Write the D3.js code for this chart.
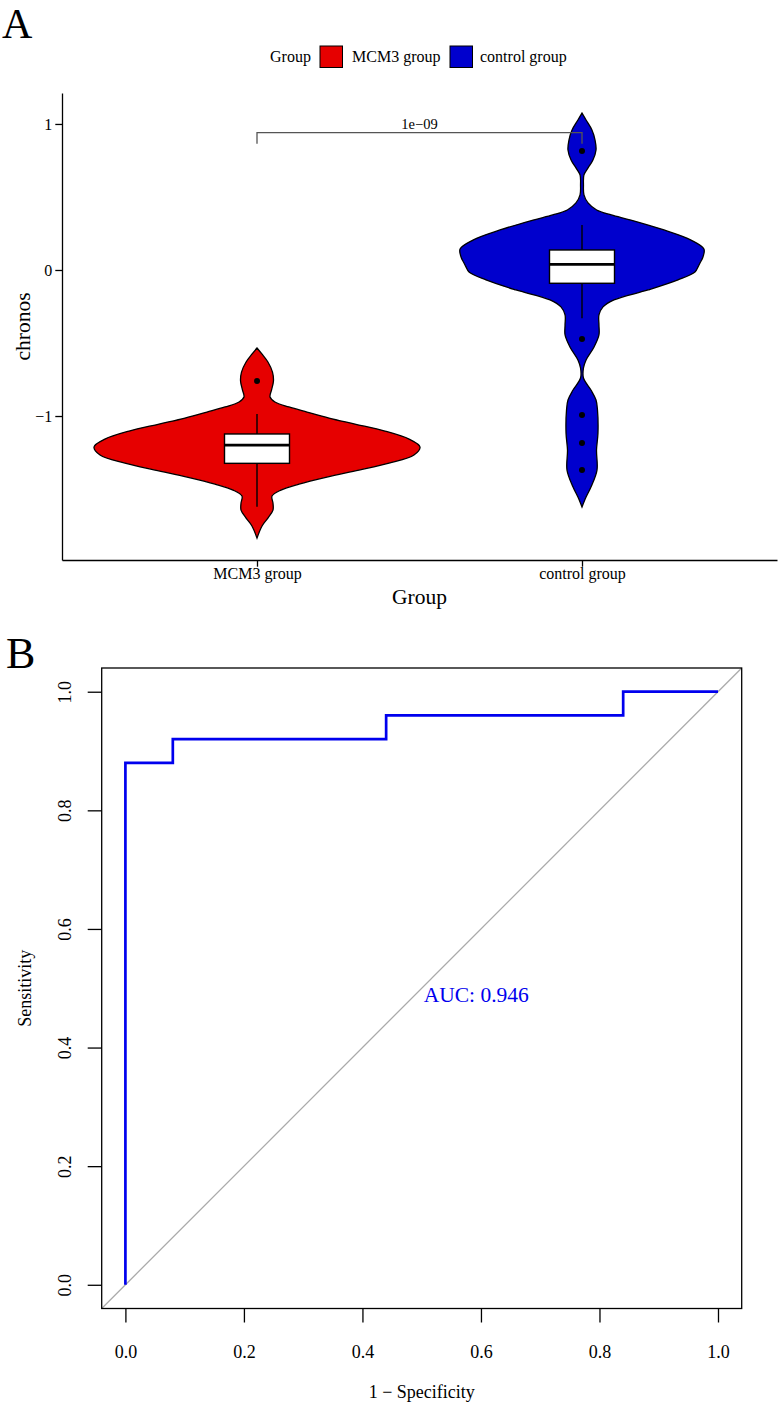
<!DOCTYPE html>
<html><head><meta charset="utf-8">
<script src="https://cdn.jsdelivr.net/npm/d3@7"></script>
<style>
body{margin:0;background:#fff}
text{font-family:"Liberation Serif","Times New Roman",serif;fill:#000}
</style>
</head><body>
<svg id="chart" width="780" height="1404"></svg>
<script>
// ---------- Panel A data ----------
const groups = ["MCM3 group", "control group"];
const groupColors = ["#E60000", "#0000CD"];
const yTicksA = [-1, 0, 1];

// violin outline profiles (value, relative density)
const mcm3ViolinValue = [-0.534,-0.575,-0.630,-0.699,-0.760,-0.822,-0.870,-0.904,-0.938,-0.973,-1.014,-1.055,-1.103,-1.158,-1.212,-1.267,-1.322,-1.370,-1.418,-1.466,-1.507,-1.548,-1.596,-1.644,-1.699,-1.753,-1.836];
const mcm3ViolinDensity = [0,0.03,0.067,0.095,0.101,0.089,0.080,0.110,0.196,0.307,0.442,0.601,0.785,0.933,1.0,0.963,0.810,0.626,0.429,0.258,0.147,0.092,0.098,0.098,0.067,0.031,0];
const controlViolinValue = [1.075,1.027,0.959,0.890,0.822,0.753,0.699,0.651,0.582,0.514,0.459,0.411,0.377,0.342,0.274,0.205,0.144,0.089,0.048,0.021,-0.014,-0.068,-0.137,-0.205,-0.253,-0.308,-0.377,-0.445,-0.527,-0.616,-0.671,-0.740,-0.822,-0.890,-0.959,-1.116,-1.233,-1.370,-1.486,-1.555,-1.623];
const controlViolinDensity = [0,0.025,0.061,0.080,0.086,0.067,0.037,0.012,0.009,0.012,0.037,0.09,0.18,0.30,0.503,0.669,0.748,0.742,0.724,0.712,0.693,0.589,0.405,0.196,0.129,0.104,0.104,0.104,0.074,0.025,0.009,0.009,0.055,0.086,0.095,0.098,0.089,0.092,0.055,0.025,0];

// boxplot statistics
const boxLowerWhisker = [-1.621, -0.331];
const boxQ1 = [-1.324, -0.091];
const boxMedian = [-1.199, 0.039];
const boxQ3 = [-1.123, 0.137];
const boxUpperWhisker = [-0.986, 0.308];
const mcm3Outliers = [-0.760];
const controlOutliers = [0.815, -0.473, -0.993, -1.185, -1.370];
const pValueLabel = "1e\u221209";
const bracketValue = 0.94;

// ---------- Panel B data ----------
const rocFpr = [0, 0, 0.08, 0.08, 0.44, 0.44, 0.84, 0.84, 1];
const rocTpr = [0, 0.88, 0.88, 0.92, 0.92, 0.96, 0.96, 1, 1];
const rocTicks = [0, 0.2, 0.4, 0.6, 0.8, 1.0];
const aucLabel = "AUC: 0.946";

const svg = d3.select("#chart");

// =============== Panel A ===============
const xA = d3.scalePoint().domain(groups).range([62, 777]).padding(0.6);
const yA = d3.scaleLinear().domain([-1.986, 1.212]).range([560, 93]);
const wA = d3.scaleLinear().domain([0, 1]).range([0, 163]);
const boxHalf = 32.5;

svg.append("text").attr("x", 2).attr("y", 37.5).attr("font-size", 42).text("A");

// legend
const leg = svg.append("g");
leg.append("text").attr("x", 270).attr("y", 62).attr("font-size", 16).text("Group");
const legX = [320, 450], legTX = [352, 480];
groups.forEach((g, i) => {
  leg.append("rect").attr("x", legX[i]).attr("y", 46).attr("width", 22.5).attr("height", 21.5)
    .attr("fill", groupColors[i]).attr("stroke", "#000").attr("stroke-width", 1);
  leg.append("text").attr("x", legTX[i]).attr("y", 62).attr("font-size", 16).text(g);
});

// violins
const profiles = [
  mcm3ViolinValue.map((v, i) => ({v, d: mcm3ViolinDensity[i]})),
  controlViolinValue.map((v, i) => ({v, d: controlViolinDensity[i]}))
];
groups.forEach((g, i) => {
  const cx = xA(g);
  const area = d3.area()
    .y(d => yA(d.v))
    .x0(d => cx - wA(d.d))
    .x1(d => cx + wA(d.d))
    .curve(d3.curveCatmullRom.alpha(0.5));
  svg.append("path").attr("d", area(profiles[i]))
    .attr("fill", groupColors[i]).attr("stroke", "#000").attr("stroke-width", 1.3);
});

// boxplots
const outliers = [mcm3Outliers, controlOutliers];
groups.forEach((g, i) => {
  const cx = xA(g);
  svg.append("line").attr("x1", cx).attr("x2", cx)
    .attr("y1", yA(boxUpperWhisker[i])).attr("y2", yA(boxQ3[i]))
    .attr("stroke", "#000").attr("stroke-width", 1.4);
  svg.append("line").attr("x1", cx).attr("x2", cx)
    .attr("y1", yA(boxQ1[i])).attr("y2", yA(boxLowerWhisker[i]))
    .attr("stroke", "#000").attr("stroke-width", 1.4);
  svg.append("rect").attr("x", cx - boxHalf).attr("width", boxHalf * 2)
    .attr("y", yA(boxQ3[i])).attr("height", yA(boxQ1[i]) - yA(boxQ3[i]))
    .attr("fill", "#fff").attr("stroke", "#000").attr("stroke-width", 1.4);
  svg.append("line").attr("x1", cx - boxHalf).attr("x2", cx + boxHalf)
    .attr("y1", yA(boxMedian[i])).attr("y2", yA(boxMedian[i]))
    .attr("stroke", "#000").attr("stroke-width", 2.8);
  outliers[i].forEach(o => {
    svg.append("circle").attr("cx", cx).attr("cy", yA(o)).attr("r", 3).attr("fill", "#000");
  });
});

// significance bracket
const by = yA(bracketValue);
const bx1 = xA(groups[0]), bx2 = xA(groups[1]);
svg.append("path")
  .attr("d", `M${bx1},${by + 11}V${by}H${bx2}V${by + 11}`)
  .attr("fill", "none").attr("stroke", "#555").attr("stroke-width", 1.3);
svg.append("text").attr("x", (bx1 + bx2) / 2).attr("y", by - 4)
  .attr("text-anchor", "middle").attr("font-size", 14.5).text(pValueLabel);

// axes A
const axLeftA = svg.append("g").attr("transform", "translate(62,0)")
  .call(d3.axisLeft(yA).tickValues(yTicksA).tickFormat(d3.format("d")).tickSize(6.7).tickSizeOuter(0).tickPadding(3));
axLeftA.selectAll("text").attr("font-size", 16).attr("font-family", "Liberation Serif").attr("fill", "#000");
axLeftA.selectAll("line,path").attr("stroke", "#000").attr("stroke-width", 1.3);

const axBotA = svg.append("g").attr("transform", "translate(0,560)")
  .call(d3.axisBottom(xA).tickSize(6.7).tickSizeOuter(0));
axBotA.selectAll("text").attr("font-size", 16).attr("font-family", "Liberation Serif")
  .attr("fill", "#000").attr("y", 19).attr("dy", 0);
axBotA.selectAll("line,path").attr("stroke", "#000").attr("stroke-width", 1.3);

svg.append("text").attr("x", xA.range()[0] + (xA.range()[1] - xA.range()[0]) / 2).attr("y", 604)
  .attr("text-anchor", "middle").attr("font-size", 21.5).text("Group");
svg.append("text").attr("transform", `translate(29.5,${(93 + 560) / 2}) rotate(-90)`)
  .attr("text-anchor", "middle").attr("font-size", 21.5).text("chronos");

// =============== Panel B ===============
const xB = d3.scaleLinear().domain([-0.04, 1.04]).range([101.7, 741.7]);
const yB = d3.scaleLinear().domain([-0.04, 1.04]).range([1308.5, 668]);

svg.append("text").attr("x", 6).attr("y", 668).attr("font-size", 44).text("B");

// diagonal reference
svg.append("line")
  .attr("x1", xB(-0.04)).attr("y1", yB(-0.04)).attr("x2", xB(1.04)).attr("y2", yB(1.04))
  .attr("stroke", "#AAAAAA").attr("stroke-width", 1.3);

// ROC curve
const rocPts = rocFpr.map((f, i) => [f, rocTpr[i]]);
svg.append("path")
  .attr("d", d3.line().x(d => xB(d[0])).y(d => yB(d[1]))(rocPts))
  .attr("fill", "none").attr("stroke", "#0000EE").attr("stroke-width", 2.7)
  .attr("stroke-linejoin", "miter");

// frame
svg.append("rect").attr("x", xB.range()[0]).attr("y", yB.range()[1])
  .attr("width", xB.range()[1] - xB.range()[0]).attr("height", yB.range()[0] - yB.range()[1])
  .attr("fill", "none").attr("stroke", "#000").attr("stroke-width", 1.3);

// axes B
const axLeftB = svg.append("g").attr("transform", `translate(${xB.range()[0]},0)`)
  .call(d3.axisLeft(yB).tickValues(rocTicks).tickFormat(d3.format(".1f")).tickSize(14).tickSizeOuter(0));
axLeftB.select(".domain").remove();
axLeftB.selectAll("line").attr("stroke", "#000").attr("stroke-width", 1.3);
axLeftB.selectAll("text").attr("font-size", 18).attr("font-family", "Liberation Serif").attr("fill", "#000")
  .attr("x", null).attr("dy", null).attr("text-anchor", "middle")
  .attr("transform", "translate(-31,0) rotate(-90)");

const axBotB = svg.append("g").attr("transform", `translate(0,${yB.range()[0]})`)
  .call(d3.axisBottom(xB).tickValues(rocTicks).tickFormat(d3.format(".1f")).tickSize(14).tickSizeOuter(0));
axBotB.select(".domain").remove();
axBotB.selectAll("line").attr("stroke", "#000").attr("stroke-width", 1.3);
axBotB.selectAll("text").attr("font-size", 18).attr("font-family", "Liberation Serif").attr("fill", "#000")
  .attr("y", 49.5).attr("dy", 0);

svg.append("text").attr("x", (xB.range()[0] + xB.range()[1]) / 2).attr("y", 1398)
  .attr("text-anchor", "middle").attr("font-size", 18).text("1 \u2212 Specificity");
svg.append("text").attr("transform", `translate(31,${(yB.range()[0] + yB.range()[1]) / 2}) rotate(-90)`)
  .attr("text-anchor", "middle").attr("font-size", 18).text("Sensitivity");

svg.append("text").attr("x", xB(0.592)).attr("y", yB(0.488) + 7)
  .attr("text-anchor", "middle").attr("font-size", 21.5)
  .style("fill", "#0000EE").text(aucLabel);
</script>
</body></html>
